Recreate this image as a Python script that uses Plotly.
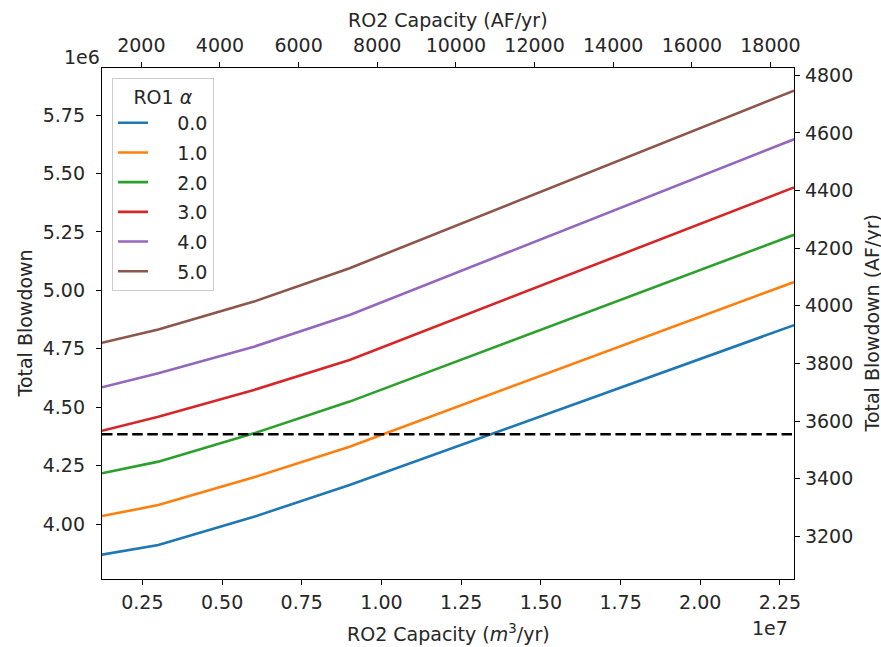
import plotly.graph_objects as go

# ---- data (RO2 capacity in m^3/yr, total blowdown in m^3/yr) ----
M3_PER_AF = 1233.48
ro2_capacity_m3 = [1.2335e6, 3.0e6, 6.0e6, 9.0e6, 2.294e7]
alpha_labels = ["0.0", "1.0", "2.0", "3.0", "4.0", "5.0"]
blowdown_a0 = [3.869e6, 3.910e6, 4.031e6, 4.167e6, 4.851e6]
blowdown_a1 = [4.034e6, 4.081e6, 4.200e6, 4.331e6, 5.036e6]
blowdown_a2 = [4.217e6, 4.267e6, 4.388e6, 4.524e6, 5.238e6]
blowdown_a3 = [4.399e6, 4.459e6, 4.574e6, 4.702e6, 5.441e6]
blowdown_a4 = [4.585e6, 4.645e6, 4.759e6, 4.895e6, 5.647e6]
blowdown_a5 = [4.776e6, 4.833e6, 4.952e6, 5.095e6, 5.855e6]
threshold_m3 = 4.384e6

x_ticks_1e7 = [0.25, 0.50, 0.75, 1.00, 1.25, 1.50, 1.75, 2.00, 2.25]
y_ticks_1e6 = [4.00, 4.25, 4.50, 4.75, 5.00, 5.25, 5.50, 5.75]
x2_ticks_af = [2000, 4000, 6000, 8000, 10000, 12000, 14000, 16000, 18000]
y2_ticks_af = [3200, 3400, 3600, 3800, 4000, 4200, 4400, 4600, 4800]

colors = ["#1f77b4", "#ff7f0e", "#2ca02c", "#d62728", "#9467bd", "#8c564b"]
series = [blowdown_a0, blowdown_a1, blowdown_a2, blowdown_a3, blowdown_a4, blowdown_a5]

x_range = [ro2_capacity_m3[0], ro2_capacity_m3[-1]]
y_range = [3.7646e6, 5.952e6]

FONT = "DejaVu Sans"
TXT = "#262626"
FS = 19
NB = "\u00a0"

fig = go.Figure()
for lab, ys, c in zip(alpha_labels, series, colors):
    fig.add_trace(go.Scatter(
        x=ro2_capacity_m3, y=ys, mode="lines", name=NB * 4 + lab,
        legendgroup=lab, line=dict(color=c, width=2.6),
    ))

# dashed threshold drawn on the AF/yr axes
fig.add_trace(go.Scatter(
    x=[x_range[0] / M3_PER_AF, x_range[1] / M3_PER_AF],
    y=[threshold_m3 / M3_PER_AF, threshold_m3 / M3_PER_AF],
    mode="lines", xaxis="x2", yaxis="y2", showlegend=False,
    line=dict(color="black", width=2.6, dash="10.5px,4.6px"),
))

axis_common = dict(
    showgrid=False, zeroline=False, showline=True, linecolor="black",
    linewidth=1.3, ticks="outside", ticklen=5, tickwidth=1.3,
    tickcolor="black", tickfont=dict(family=FONT, size=FS, color=TXT),
    automargin=False,
)

tfont = dict(family=FONT, size=FS, color=TXT)

fig.update_layout(
    width=881, height=647, autosize=False,
    margin=dict(l=102, r=87, t=68, b=68),
    paper_bgcolor="white", plot_bgcolor="white",
    font=tfont,
    xaxis=dict(
        range=x_range, tickvals=[v * 1e7 for v in x_ticks_1e7],
        ticktext=[f"{v:.2f}" for v in x_ticks_1e7], ticklabelstandoff=1,
        **axis_common,
    ),
    yaxis=dict(
        range=y_range, tickvals=[v * 1e6 for v in y_ticks_1e6],
        ticktext=[f"{v:.2f}" for v in y_ticks_1e6], ticklabelstandoff=7,
        **axis_common,
    ),
    xaxis2=dict(
        overlaying="x", side="top", anchor="y",
        range=[x_range[0] / M3_PER_AF, x_range[1] / M3_PER_AF],
        tickvals=x2_ticks_af, ticktext=[str(v) for v in x2_ticks_af],
        ticklabelstandoff=2,
        **axis_common,
    ),
    yaxis2=dict(
        overlaying="y", side="right", anchor="x",
        range=[y_range[0] / M3_PER_AF, y_range[1] / M3_PER_AF],
        tickvals=y2_ticks_af, ticktext=[str(v) for v in y2_ticks_af],
        ticklabelstandoff=1,
        **axis_common,
    ),
    legend=dict(
        x=0.0145, y=0.98, xanchor="left", yanchor="top",
        bgcolor="rgba(255,255,255,0.8)", bordercolor="#cccccc", borderwidth=1,
        font=tfont,
        title=dict(text="RO1 <i>α</i>", side="top center", font=tfont),
        tracegroupgap=2,
    ),
    annotations=[
        dict(text="RO2 Capacity (<i>m</i><sup>3</sup>/yr)", xref="paper", yref="paper",
             x=0.5, y=0, xanchor="center", yanchor="middle", yshift=-54,
             showarrow=False, font=tfont),
        dict(text="RO2 Capacity (AF/yr)", xref="paper", yref="paper",
             x=0.5, y=1, xanchor="center", yanchor="middle", yshift=48,
             showarrow=False, font=tfont),
        dict(text="Total Blowdown", xref="paper", yref="paper",
             x=0, y=0.5, xanchor="center", yanchor="middle", xshift=-78,
             textangle=-90, showarrow=False, font=tfont),
        dict(text="Total Blowdown (AF/yr)", xref="paper", yref="paper",
             x=1, y=0.5, xanchor="center", yanchor="middle", xshift=77,
             textangle=-90, showarrow=False, font=tfont),
        dict(text="1e6", xref="paper", yref="paper", x=0, y=1,
             xanchor="right", yanchor="middle", yshift=11, showarrow=False,
             font=tfont),
        dict(text="1e7", xref="paper", yref="paper", x=1, y=0,
             xanchor="right", yanchor="middle", yshift=-49, xshift=-4,
             showarrow=False, font=tfont),
    ],
)

fig.write_html(
    "out.html",
    config={"displayModeBar": False},
    post_script="document.body.style.margin='0';document.body.style.overflow='hidden';",
)
